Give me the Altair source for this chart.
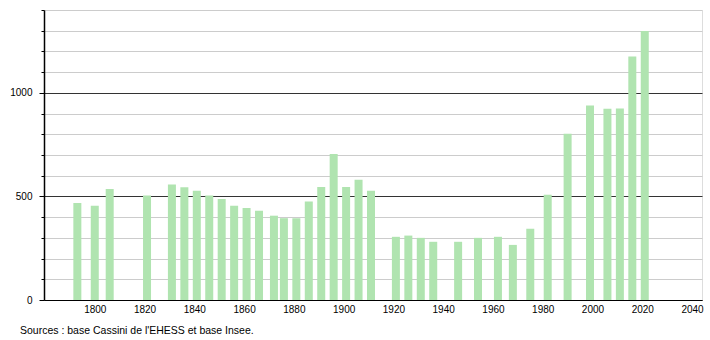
import altair as alt
import pandas as pd

years = [1793, 1800, 1806, 1821, 1831, 1836, 1841, 1846, 1851, 1856, 1861, 1866,
         1872, 1876, 1881, 1886, 1891, 1896, 1901, 1906, 1911, 1921, 1926, 1931,
         1936, 1946, 1954, 1962, 1968, 1975, 1982, 1990, 1999, 2006, 2011, 2016, 2021]
population = [468, 455, 536, 504, 557, 544, 528, 504, 487, 455, 444, 431,
              407, 395, 395, 476, 546, 705, 546, 581, 528, 305, 311, 300,
              281, 281, 300, 305, 266, 344, 508, 802, 939, 923, 925, 1175, 1299]
x_ticks = [1800, 1820, 1840, 1860, 1880, 1900, 1920, 1940, 1960, 1980, 2000, 2020, 2040]
y_ticks = list(range(0, 1401, 100))
source = "Sources : base Cassini de l'EHESS et base Insee."

df = pd.DataFrame({"year": years, "pop": population})

FONT = "Liberation Sans"

bars = alt.Chart(df).mark_bar(size=8, color="#b0e4b0").encode(
    x=alt.X("year:Q",
            scale=alt.Scale(domain=[1779.6, 2044], nice=False, zero=False, padding=0),
            axis=alt.Axis(values=x_ticks, format="d", title=None, ticks=False,
                          grid=False, domainColor="#000", domainWidth=1,
                          labelFont=FONT, labelFontSize=10, labelColor="#000",
                          labelPadding=4, labelFlush=False)),
    y=alt.Y("pop:Q",
            scale=alt.Scale(domain=[0, 1400], nice=False),
            axis=alt.Axis(values=y_ticks, title=None, grid=True,
                          gridColor=alt.condition("datum.value % 500 === 0", alt.value("#333333"), alt.value("#cccccc")),
                          gridWidth=1,
                          tickColor="#000",
                          tickSize=alt.condition("datum.value % 500 === 0", alt.value(5), alt.value(3)),
                          labelExpr="datum.value % 500 === 0 ? datum.label : ''",
                          format="d",
                          domainColor="#000", domainWidth=1.5,
                          labelFont=FONT, labelFontSize=10, labelColor="#000",
                          labelPadding=7)),
)

chart = alt.layer(bars).properties(
    width=658, height=290,
    autosize=alt.AutoSizeParams(type="none"),
    padding={"left": 44, "top": 10, "right": 8, "bottom": 40},
    title=alt.TitleParams(source, orient="bottom", anchor="start", frame="group",
                          dx=-24, offset=12, font=FONT, fontSize=10.5,
                          fontWeight="normal", color="#000"),
).configure_view(stroke=None).configure(background="white")

chart.save("out.html", embed_options={"renderer": "svg", "actions": False})
